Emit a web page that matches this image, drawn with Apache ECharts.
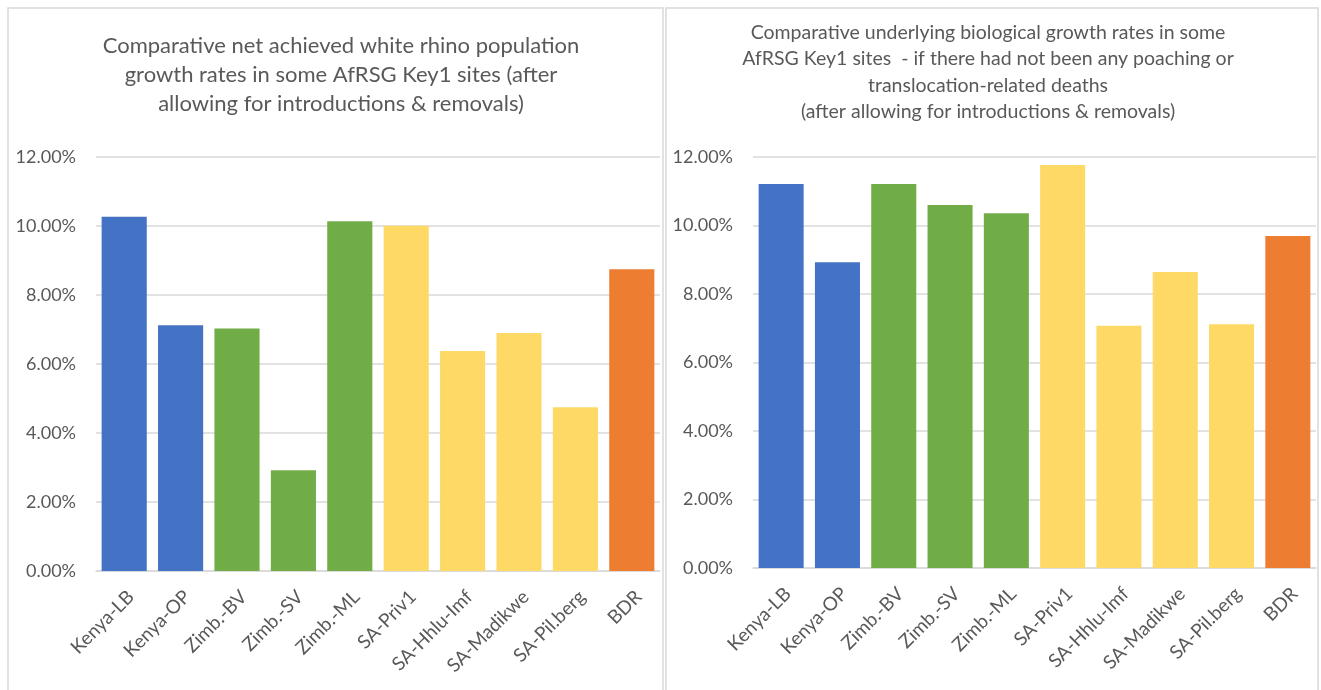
<!DOCTYPE html>
<html>
<head>
<meta charset="utf-8">
<script src="https://cdn.jsdelivr.net/npm/echarts@6/dist/echarts.min.js"></script>
<style>
  html, body { margin: 0; padding: 0; background: #ffffff; }
  #chart { width: 1321px; height: 690px; }
</style>
</head>
<body>
<div id="chart"></div>
<script>
// Sites compared in both panels
const sites = ['Kenya-LB', 'Kenya-OP', 'Zimb.-BV', 'Zimb.-SV', 'Zimb.-ML',
               'SA-Priv1', 'SA-Hhlu-Imf', 'SA-Madikwe', 'SA-Pil.berg', 'BDR'];

// Net achieved growth rates (%), after introductions & removals
const netGrowth = [10.27, 7.12, 7.03, 2.92, 10.14, 10.01, 6.38, 6.90, 4.75, 8.75];

// Underlying biological growth rates (%), excluding poaching & translocation deaths
const bioGrowth = [11.21, 8.93, 11.21, 10.60, 10.36, 11.77, 7.07, 8.64, 7.12, 9.69];

// Country group of each site, and the colour used for each group
const siteGroup = ['Kenya', 'Kenya', 'Zimb', 'Zimb', 'Zimb', 'SA', 'SA', 'SA', 'SA', 'BDR'];
const groupColors = { Kenya: '#4472C4', Zimb: '#70AD47', SA: '#FFD966', BDR: '#ED7D31' };

// Value axis ticks (%)
const yMin = 0, yMax = 12, yStep = 2;

const titleLeft = 'Comparative net achieved white rhino population\ngrowth rates in some AfRSG Key1 sites (after\nallowing for introductions & removals)';
const titleRight = 'Comparative underlying biological growth rates in some\nAfRSG Key1 sites  - if there had not been any poaching or\ntranslocation-related deaths\n(after allowing for introductions & removals)';

const FONT = 'Lato, "Open Sans", sans-serif';
const TEXT = '#595959';
const GRID = '#d9d9d9';

function barData(values) {
  return values.map((v, i) => ({ value: v, itemStyle: { color: groupColors[siteGroup[i]] } }));
}

function xAxis(gridIndex) {
  return {
    type: 'category', gridIndex, data: sites,
    axisTick: { show: false },
    axisLine: { lineStyle: { color: GRID, width: 1.5 } },
    axisLabel: { rotate: 45, margin: 16, color: TEXT, fontSize: 19, fontFamily: FONT,
                 interval: 0, verticalAlign: 'top' }
  };
}

function yAxis(gridIndex) {
  return {
    type: 'value', gridIndex, min: yMin, max: yMax, interval: yStep,
    axisLine: { show: false }, axisTick: { show: false },
    splitLine: { lineStyle: { color: GRID, width: 1.5 } },
    axisLabel: { margin: 20, color: TEXT, fontSize: 18, fontFamily: FONT,
                 formatter: v => v.toFixed(2) + '%' }
  };
}

const chart = echarts.init(document.getElementById('chart'), null, { renderer: 'canvas' });
chart.setOption({
  backgroundColor: '#ffffff',
  animation: false,
  title: [
    { text: titleLeft, left: 336, top: 26, textAlign: 'center',
      textStyle: { color: TEXT, fontSize: 22, fontWeight: 'normal', fontFamily: FONT, lineHeight: 29 } },
    { text: titleRight, left: 983, top: 14, textAlign: 'center',
      textStyle: { color: TEXT, fontSize: 19.5, fontWeight: 'normal', fontFamily: FONT, lineHeight: 26.5 } }
  ],
  grid: [
    { left: 96, right: 661, top: 157, bottom: 119 },
    { left: 753, right: 5, top: 157, bottom: 122 }
  ],
  xAxis: [xAxis(0), xAxis(1)],
  yAxis: [yAxis(0), yAxis(1)],
  series: [
    { type: 'bar', xAxisIndex: 0, yAxisIndex: 0, data: barData(netGrowth), barCategoryGap: '20%' },
    { type: 'bar', xAxisIndex: 1, yAxisIndex: 1, data: barData(bioGrowth), barCategoryGap: '20%' }
  ],
  graphic: [
    { type: 'rect', shape: { x: 8, y: 8, width: 655, height: 700 },
      style: { fill: 'none', stroke: GRID, lineWidth: 1.5 }, silent: true },
    { type: 'rect', shape: { x: 666, y: 8, width: 652, height: 700 },
      style: { fill: 'none', stroke: GRID, lineWidth: 1.5 }, silent: true }
  ]
});
</script>
</body>
</html>
